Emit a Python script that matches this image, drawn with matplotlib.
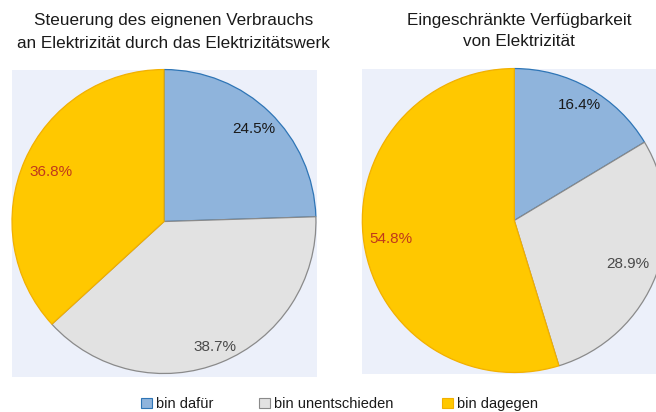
import numpy as np
import matplotlib
matplotlib.use("Agg")
import matplotlib.pyplot as plt
from matplotlib.patches import Patch

plt.rcParams['font.family'] = ['Liberation Sans', 'DejaVu Sans']

categories = ["bin dafür", "bin unentschieden", "bin dagegen"]
titles = [["Steuerung des eignenen Verbrauchs",
           "an Elektrizität durch das Elektrizitätswerk"],
          ["Eingeschränkte Verfügbarkeit",
           "von Elektrizität"]]
values_left = [24.5, 38.7, 36.8]
values_right = [16.4, 28.9, 54.8]

face_colors = ["#8FB4DC", "#E2E2E2", "#FFC800"]
edge_colors = ["#2E75B6", "#8A8A8A", "#F2B000"]
label_colors = ["#1A1A1A", "#4A4A4A", "#C0391B"]
bg = "#ECF0FA"

W, H = 656, 412
fig = plt.figure(figsize=(W / 100, H / 100), dpi=100)
fig.patch.set_facecolor("white")

def fx(px):
    return px / W

def fy(py):
    return 1 - py / H

panels = [
    dict(vals=values_left, rect=[fx(12), fy(377), fx(305), 307 / H],
         xlim=(-1.0, 1.007), ylim=(-1.023, 0.997),
         radii=[0.85, 0.89, 0.81], tx=173.6, ty=(21, 43), title=titles[0]),
    dict(vals=values_right, rect=[fx(362), fy(374), fx(305), 305 / H],
         xlim=(-1.002, 1.005), ylim=(-1.01, 0.997),
         radii=[0.875, 0.80, 0.82], tx=519, ty=(20, 42), title=titles[1]),
]

for p in panels:
    ax = fig.add_axes(p["rect"])
    wedges, texts, autotexts = ax.pie(
        p["vals"], colors=face_colors, startangle=90, counterclock=False,
        autopct="%.1f%%", pctdistance=0.84, frame=True,
        wedgeprops=dict(linewidth=0.9),
        textprops=dict(fontsize=11))
    for w, ec in zip(wedges, edge_colors):
        w.set_edgecolor(ec)
    for w, t, v, r, c in zip(wedges, autotexts, p["vals"], p["radii"], label_colors):
        ang = np.deg2rad((w.theta1 + w.theta2) / 2)
        t.set_text(f"{v:.1f}%")
        t.set_position((r * np.cos(ang), r * np.sin(ang)))
        t.set_color(c)
        t.set_ha("center")
        t.set_va("center")
    ax.set_aspect("auto")
    ax.set_xlim(*p["xlim"])
    ax.set_ylim(*p["ylim"])
    ax.set_facecolor(bg)
    ax.set_xticks([])
    ax.set_yticks([])
    for s in ax.spines.values():
        s.set_visible(False)
    for line, y in zip(p["title"], p["ty"]):
        fig.text(fx(p["tx"]), fy(y), line, ha="center", va="center",
                 fontsize=12.3, color="#1A1A1A")

legend_x = [141, 259, 442]
for cat, fc, ec, lx in zip(categories, face_colors, edge_colors, legend_x):
    h = Patch(facecolor=fc, edgecolor=ec, linewidth=0.8)
    fig.legend([h], [cat], loc="center left",
               bbox_to_anchor=(fx(lx), fy(404)), frameon=False,
               borderaxespad=0, borderpad=0, handlelength=0.75,
               handleheight=0.75, handletextpad=0.25, fontsize=10.5,
               labelcolor="#1A1A1A")

fig.savefig("out.png", dpi=100, facecolor="white")
